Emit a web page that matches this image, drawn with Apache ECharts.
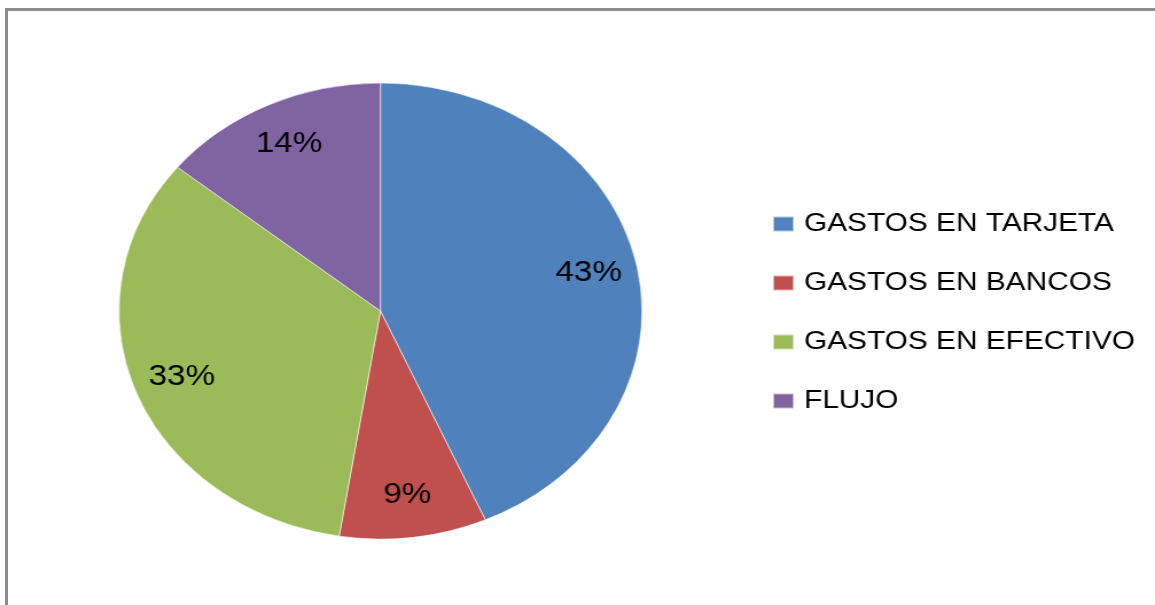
<!DOCTYPE html>
<html>
<head>
<meta charset="utf-8">
<script src="https://cdn.jsdelivr.net/npm/echarts@6/dist/echarts.min.js"></script>
<style>
  html, body { margin: 0; padding: 0; background: #ffffff; overflow: hidden; }
  #stage { position: relative; width: 1155px; height: 605px; overflow: hidden; background: #fff; }
  #frame {
    position: absolute; left: 5px; top: 8px; width: 1200px; height: 700px;
    border: 3px solid #8c8c8c; box-sizing: border-box;
  }
  /* the chart is laid out narrower and stretched sideways, giving the elliptical pie */
  #chart {
    position: absolute; left: 0; top: 0; width: 1007px; height: 605px;
    transform: scaleX(1.147); transform-origin: 0 0;
  }
</style>
</head>
<body>
<div id="stage">
  <div id="frame"></div>
  <div id="chart"></div>
</div>
<script>
// Expense shares (percent)
const categories = ['GASTOS EN TARJETA', 'GASTOS EN BANCOS', 'GASTOS EN EFECTIVO', 'FLUJO'];
const shares = [43, 9, 33, 14];
const colors = ['#4F81BD', '#C0504D', '#9BBB59', '#8064A2'];

const pieData = categories.map((name, i) => ({ name: name, value: shares[i], itemStyle: { color: colors[i] } }));

const center = [331.7, 311];
const R = 228;
const fontFamily = '"Liberation Sans", Arial, sans-serif';

const chart = echarts.init(document.getElementById('chart'), null, { renderer: 'canvas' });
chart.setOption({
  animation: false,
  backgroundColor: 'transparent',
  legend: {
    orient: 'vertical',
    left: 673,
    top: 211,
    padding: 0,
    itemWidth: 18,
    itemHeight: 15,
    itemGap: 33,
    icon: 'rect',
    selectedMode: false,
    data: categories,
    textStyle: { fontFamily: fontFamily, fontSize: 26, lineHeight: 26, color: '#000', padding: [0, 0, 0, 4] }
  },
  series: [
    {
      // the pie itself
      type: 'pie',
      center: center,
      radius: [0, R],
      startAngle: 90,
      clockwise: true,
      silent: true,
      label: { show: false },
      labelLine: { show: false },
      itemStyle: { borderColor: 'rgba(255,255,255,0.55)', borderWidth: 1 },
      data: pieData
    },
    {
      // percentage labels, set out toward the rim of each slice
      type: 'pie',
      center: center,
      radius: [R * 0.6, R],
      startAngle: 90,
      clockwise: true,
      silent: true,
      itemStyle: { color: 'transparent', borderWidth: 0 },
      label: {
        show: true,
        position: 'inside',
        formatter: '{c}%',
        fontFamily: fontFamily,
        fontSize: 29,
        color: '#000'
      },
      labelLine: { show: false },
      data: categories.map((name, i) => ({ name: name, value: shares[i] }))
    }
  ]
});
</script>
</body>
</html>
